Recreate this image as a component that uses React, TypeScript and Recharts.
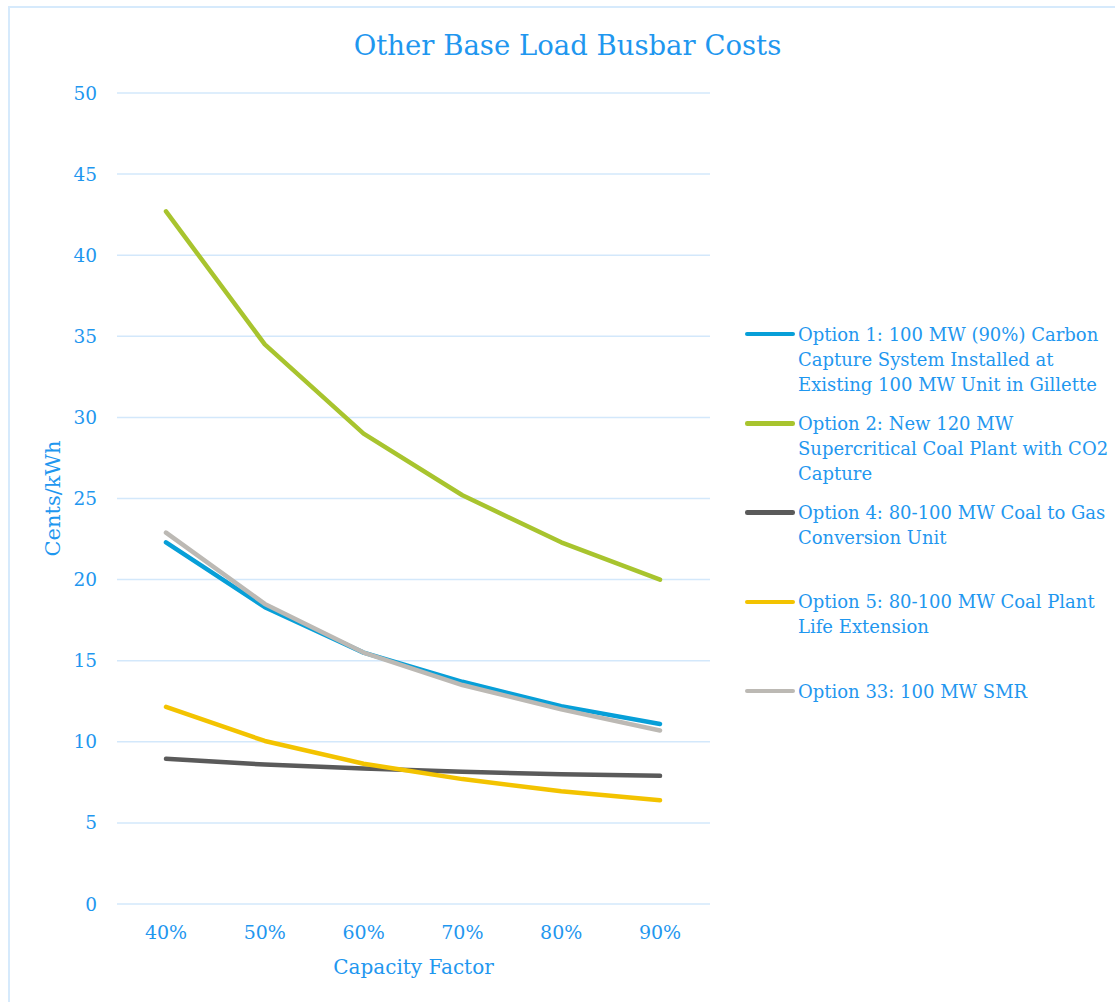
import React from "react";
import { LineChart, Line, XAxis, YAxis, CartesianGrid } from "recharts";

const categories = ["40%", "50%", "60%", "70%", "80%", "90%"];
const option1 = [22.3, 18.3, 15.5, 13.7, 12.2, 11.1];
const option2 = [42.7, 34.5, 29.0, 25.2, 22.3, 20.0];
const option4 = [8.95, 8.6, 8.35, 8.15, 8.0, 7.9];
const option5 = [12.15, 10.05, 8.65, 7.7, 6.95, 6.4];
const option33 = [22.9, 18.5, 15.5, 13.5, 12.0, 10.7];
const yTicks = [0, 5, 10, 15, 20, 25, 30, 35, 40, 45, 50];

const seriesNames = [
  "Option 1: 100 MW (90%) Carbon\nCapture System Installed at\nExisting 100 MW Unit in Gillette",
  "Option 2: New 120 MW\nSupercritical Coal Plant with CO2\nCapture",
  "Option 4: 80-100 MW Coal to Gas\nConversion Unit",
  "Option 5: 80-100 MW Coal Plant\nLife Extension",
  "Option 33: 100 MW SMR",
];
const seriesKeys = ["o1", "o2", "o4", "o5", "o33"];
const seriesColors = ["#079fd8", "#a8c42e", "#5a5a5a", "#f3c300", "#bcb9b4"];
const seriesValues = [option1, option2, option4, option5, option33];

const data = categories.map((c, i) => {
  const row: Record<string, string | number> = { cat: c };
  seriesKeys.forEach((k, s) => {
    row[k] = seriesValues[s][i];
  });
  return row;
});

const FONT = "'DejaVu Serif', serif";
const TEXT = "#1f97ef";

export default function App() {
  return (
    <div
      style={{
        position: "absolute",
        left: 0,
        top: 0,
        width: 1115,
        height: 1002,
        overflow: "hidden",
        background: "#fff",
        fontFamily: FONT,
      }}
    >
      <div
        style={{
          position: "absolute",
          left: 8,
          top: 6,
          width: 1200,
          height: 1100,
          borderTop: "2px solid #d6eafc",
          borderLeft: "2px solid #d6eafc",
        }}
      />
      <div
        style={{
          position: "absolute",
          left: 0,
          top: 28,
          width: 1135,
          textAlign: "center",
          color: TEXT,
          fontSize: 27.5,
          lineHeight: "34px",
        }}
      >
        Other Base Load Busbar Costs
      </div>
      <div style={{ position: "absolute", left: 0, top: 0 }}>
        <LineChart
          width={1115}
          height={1002}
          data={data}
          margin={{ top: 93, right: 405, bottom: 28, left: 0 }}
        >
          <CartesianGrid
            horizontal={true}
            vertical={false}
            stroke="#d3e8fb"
            strokeWidth={1.5}
          />
          <XAxis
            dataKey="cat"
            axisLine={false}
            tickLine={false}
            tickMargin={16}
            height={70}
            padding={{ left: 49, right: 50 }}
            tick={{ fill: TEXT, fontSize: 19, fontFamily: FONT }}
            label={{
              value: "Capacity Factor",
              position: "insideBottom",
              offset: 0,
              fill: TEXT,
              fontSize: 20,
              fontFamily: FONT,
            }}
          />
          <YAxis
            domain={[0, 50]}
            ticks={yTicks}
            interval={0}
            axisLine={false}
            tickLine={false}
            tickMargin={14}
            width={117}
            tick={{ fill: TEXT, fontSize: 18.5, fontFamily: FONT }}
            label={{
              value: "Cents/kWh",
              angle: -90,
              position: "insideLeft",
              offset: 53,
              style: { textAnchor: "middle" },
              fill: TEXT,
              fontSize: 21,
              fontFamily: FONT,
            }}
          />
          {seriesKeys.map((k, s) => (
            <Line
              key={k}
              type="linear"
              dataKey={k}
              name={seriesNames[s]}
              stroke={seriesColors[s]}
              strokeWidth={4.5}
              strokeLinecap="round"
              strokeLinejoin="round"
              dot={false}
              activeDot={false}
              isAnimationActive={false}
            />
          ))}
        </LineChart>
      </div>
      {seriesNames.map((n, s) => (
        <div
          key={seriesKeys[s]}
          style={{
            position: "absolute",
            left: 745,
            top: 321.5 + s * 89.3,
            width: 370,
            height: 89,
          }}
        >
          <div
            style={{
              position: "absolute",
              left: 0,
              top: 10.25,
              width: 50,
              height: 4.5,
              borderRadius: 2.25,
              background: seriesColors[s],
            }}
          />
          <div
            style={{
              position: "absolute",
              left: 53,
              top: 0,
              whiteSpace: "pre",
              color: TEXT,
              fontSize: 18,
              lineHeight: "25px",
            }}
          >
            {n}
          </div>
        </div>
      ))}
    </div>
  );
}
